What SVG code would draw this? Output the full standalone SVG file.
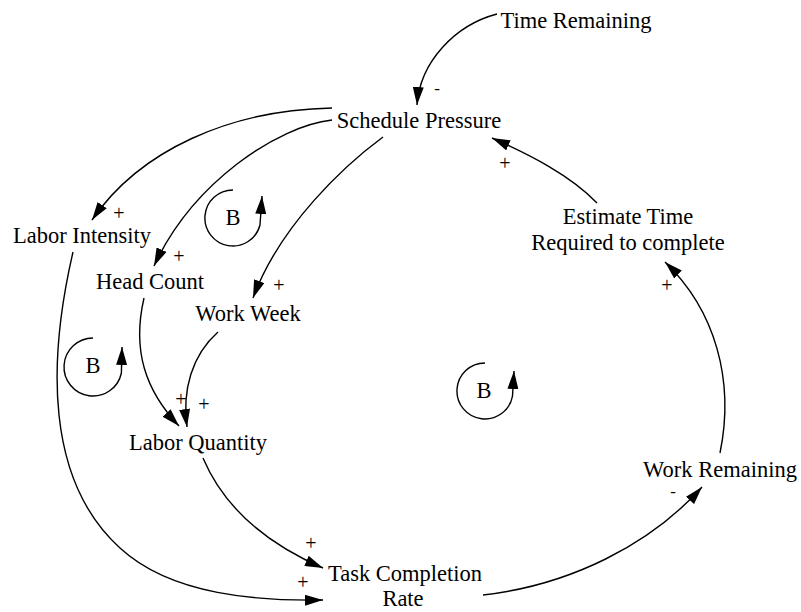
<svg xmlns="http://www.w3.org/2000/svg" width="801" height="612" viewBox="0 0 801 612">
  <style>
    .lbl { font-family: "Liberation Serif", "Times New Roman", serif; font-size: 22.5px; fill: #000; text-anchor: middle; }
    .pol { font-family: "Liberation Serif", "Times New Roman", serif; font-size: 20px; fill: #000; text-anchor: middle; }
    .neg { font-size: 17px; }
    .link { fill: none; stroke: #000; stroke-width: 1.4; marker-end: url(#ah); }
  </style>
  <defs>
    <marker id="ah" viewBox="0 0 18 11" refX="18" refY="5.5" markerWidth="18" markerHeight="11" markerUnits="userSpaceOnUse" orient="auto">
      <path d="M0,0 L18,5.5 L0,11 z" fill="#000"/>
    </marker>
  </defs>
  <rect width="801" height="612" fill="#fff"/>

  <!-- causal links -->
  <g id="connectors">
    <path class="link" d="M497,14 C455,25 420,62 417,105"/>
    <path class="link" d="M332,108 C230,110 140,150 92,220"/>
    <path class="link" d="M332,120 C278,126 193,182 154,266"/>
    <path class="link" d="M383,137 C345,165 280,225 253,298"/>
    <path class="link" d="M73,252 C48,360 45,480 120,548 C172,596 260,601 323,600"/>
    <path class="link" d="M144,298 C132,350 145,390 179,426"/>
    <path class="link" d="M218,332 C192,355 182,390 187,427"/>
    <path class="link" d="M203,458 C225,510 270,545 323,568"/>
    <path class="link" d="M483,595 C570,585 650,545 702,487"/>
    <path class="link" d="M720,453 C735,380 715,310 665,262"/>
    <path class="link" d="M597,203 C570,175 530,155 492,138"/>
  </g>

  <!-- polarity signs -->
  <g id="polarities">
    <text class="pol neg" x="437" y="94">-</text>
    <text class="pol" x="119" y="220">+</text>
    <text class="pol" x="179" y="263">+</text>
    <text class="pol" x="279" y="292">+</text>
    <text class="pol" x="181" y="406">+</text>
    <text class="pol" x="204" y="411">+</text>
    <text class="pol" x="311" y="550">+</text>
    <text class="pol" x="303" y="589">+</text>
    <text class="pol neg" x="673" y="497">-</text>
    <text class="pol" x="667" y="292">+</text>
    <text class="pol" x="505" y="170">+</text>
  </g>

  <!-- loop markers -->
  <g id="loop-upper">
    <path class="link" d="M233,190 A28,28 0 1 0 260,225 L262,196"/>
    <text class="lbl" x="233" y="225">B</text>
  </g>
  <g id="loop-left">
    <path class="link" d="M93,338 A29,29 0 1 0 121.4,373 L122,347"/>
    <text class="lbl" x="93" y="373">B</text>
  </g>
  <g id="loop-right">
    <path class="link" d="M485,363 A28,28 0 1 0 512.5,396 L514,371"/>
    <text class="lbl" x="484" y="398">B</text>
  </g>

  <!-- variables -->
  <g id="time-remaining"><text class="lbl" x="576" y="28">Time Remaining</text></g>
  <g id="schedule-pressure"><text class="lbl" x="419" y="128">Schedule Pressure</text></g>
  <g id="labor-intensity"><text class="lbl" x="82" y="243">Labor Intensity</text></g>
  <g id="head-count"><text class="lbl" x="150" y="289">Head Count</text></g>
  <g id="work-week"><text class="lbl" x="248" y="321">Work Week</text></g>
  <g id="labor-quantity"><text class="lbl" x="198" y="450">Labor Quantity</text></g>
  <g id="task-completion-rate">
    <text class="lbl" x="405" y="581">Task Completion</text>
    <text class="lbl" x="403" y="606">Rate</text>
  </g>
  <g id="work-remaining"><text class="lbl" x="720" y="477">Work Remaining</text></g>
  <g id="estimate-time">
    <text class="lbl" x="628" y="224">Estimate Time</text>
    <text class="lbl" x="628" y="250">Required to complete</text>
  </g>
</svg>
